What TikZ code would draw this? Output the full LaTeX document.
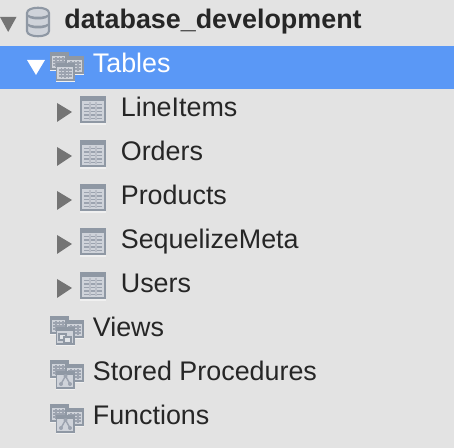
\documentclass[tikz,border=0pt]{standalone}
\usepackage{fontspec}
\setmainfont{Liberation Sans}
\usetikzlibrary{positioning}
\definecolor{panelbg}{HTML}{E3E3E3}
\definecolor{selectbg}{HTML}{5A98F6}
\definecolor{arrowgray}{HTML}{747474}
\definecolor{iconedge}{HTML}{8F98A4}
\definecolor{iconfill}{HTML}{CFD3DA}
\definecolor{iconline}{HTML}{9CA3AF}
\definecolor{textdark}{HTML}{262626}
\tikzset{
  treelabel/.style  = {anchor=base west, inner sep=0pt, text=textdark, font=\fontsize{15.3pt}{18pt}\selectfont},
  dblabel/.style    = {treelabel, font=\fontsize{15.3pt}{18pt}\selectfont\bfseries},
  sellabel/.style   = {treelabel, text=white},
  twisty/.style     = {fill=arrowgray},
  tabframe/.style   = {fill=iconfill, draw=iconedge, line width=1.2pt},
  tabhead/.style    = {fill=iconedge},
  glyph/.style      = {draw=iconedge, line width=0.7pt, fill=iconfill!60!white},
  pics/tableicon/.style = {code={
    \fill[white!94!black] (0,27) rectangle (26,29);
    \draw[tabframe] (1,1) rectangle (25,26);
    \fill[tabhead] (0,0) rectangle (26,5);
    \foreach \yy in {8.5,12,15.5,19,22.5} \draw[iconline,line width=1pt] (4,\yy) -- (22,\yy);
    \foreach \xx in {10,16} \draw[iconline!70!white,line width=0.7pt] (\xx,6) -- (\xx,24);
  }},
  pics/smalltab/.style = {code={
    \fill[white!94!black] (0,18) rectangle (19,19.5);
    \fill[iconedge] (0,0) rectangle (19,18);
    \fill[iconfill] (1.8,4) rectangle (17.2,16.2);
  }},
  pics/gridtab/.style = {code={
    \pic {smalltab};
    \foreach \yy in {7,10,13} \draw[iconline,line width=0.6pt] (3,\yy) -- (16,\yy);
    \foreach \xx in {6,9.5,13} \draw[iconline,line width=0.6pt] (\xx,5) -- (\xx,15);
  }},
  pics/groupicon/.style = {code={
    \pic at (0,-11) {gridtab};
    \pic at (15,-7) {gridtab};
    \pic at (5.5,0) {gridtab};
  }},
  pics/plaingroup/.style = {code={
    \pic at (0,-11) {gridtab};
    \pic at (15,-7) {gridtab};
    \pic at (5.5,0) {smalltab};
  }},
}

\begin{document}
\begin{tikzpicture}[x=0.02cm,y=-0.02cm]
  \useasboundingbox (0,0) rectangle (454,448);
  \fill[panelbg] (0,0) rectangle (454,448);
  % ---------------- selected row -----------------------------------------
  \fill[selectbg] (0,46) rectangle (454,89.5);

  % ---------------- database row -----------------------------------------
  \fill[twisty] (0,17) -- (16.5,17) -- (8.2,32) -- cycle;
  \draw[iconedge,line width=1.2pt,fill=iconfill] (27,13) -- (27,31)
    .. controls (27,38) and (49,38) .. (49,31) -- (49,13)
    .. controls (49,6) and (27,6) .. (27,13) -- cycle;
  \fill[iconedge] (27,13) .. controls (27,18) and (49,18) .. (49,13)
    -- (49,15) .. controls (49,21) and (27,21) .. (27,15) -- cycle;
  \fill[iconedge] (27,22) .. controls (27,27) and (49,27) .. (49,22)
    -- (49,24) .. controls (49,30) and (27,30) .. (27,24) -- cycle;
  \node[dblabel] (dbname) at (64,28.5) {database\_development};

  % ---------------- tables group -----------------------------------------
  \fill[white] (27,60) -- (45,60) -- (36,75) -- cycle;
  \pic at (50,63) {groupicon};
  \node[sellabel] (tables) at (92.5,73) {Tables};

  % ---------------- table rows -------------------------------------------
  \foreach \rowname/\rowy in {LineItems/107,Orders/151,Products/195,SequelizeMeta/239,Users/283}{
    \fill[twisty] (57,\rowy-4) -- (72,\rowy+5) -- (57,\rowy+15) -- cycle;
    \pic at (80,\rowy-11) {tableicon};
    \node[treelabel] (\rowname) at (120.5,\rowy+10) {\rowname};
  }

  % ---------------- other groups -----------------------------------------
  \foreach \rowname/\rowy in {Views/327,Stored Procedures/371,Functions/415}{
    \pic at (50,\rowy) {plaingroup};
    \node[treelabel] (\rowname) at (92.5,\rowy+10) {\rowname};
  }
  % views: two linked squares
  \draw[glyph] (59,334) rectangle (66,340);
  \draw[glyph] (64,337) rectangle (71,343);
  % procedures and functions: small trees
  \foreach \rowy in {371,415}{
    \draw[iconline,line width=0.8pt] (65.5,\rowy+5) -- (61,\rowy+13) (65.5,\rowy+5) -- (70,\rowy+13);
    \fill[iconline] (65.5,\rowy+5) circle (2) (61,\rowy+13) circle (2) (70,\rowy+13) circle (2);
  }
\end{tikzpicture}
\end{document}
